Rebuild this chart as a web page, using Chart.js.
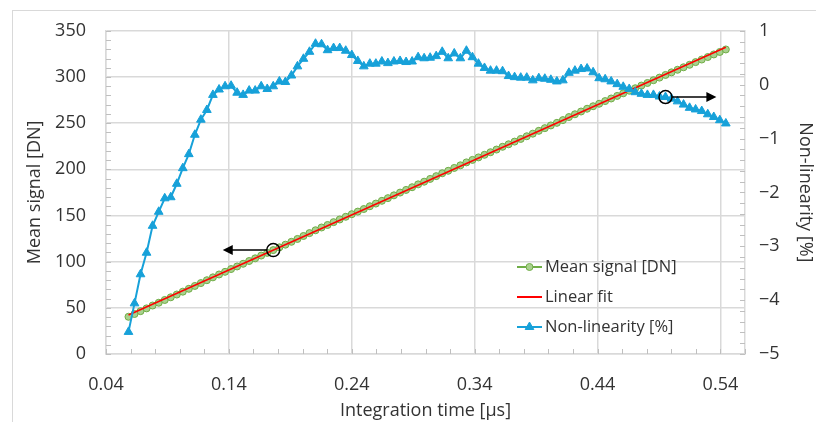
<!DOCTYPE html>
<html>
<head>
<meta charset="utf-8">
<script src="https://cdn.jsdelivr.net/npm/chart.js@4.4.1/dist/chart.umd.min.js"></script>
<style>
  body { margin: 0; background: #fff; }
  canvas { display: block; }
</style>
</head>
<body>
<canvas id="chart" width="816" height="422"></canvas>
<script>
// integration time [us]
const times = [
  0.0583, 0.0632, 0.0681, 0.0730, 0.0779, 0.0829, 0.0878, 0.0927, 0.0976, 0.1025,
  0.1074, 0.1123, 0.1172, 0.1221, 0.1270, 0.1320, 0.1369, 0.1418, 0.1467, 0.1516,
  0.1565, 0.1614, 0.1663, 0.1712, 0.1761, 0.1811, 0.1860, 0.1909, 0.1958, 0.2007,
  0.2056, 0.2105, 0.2154, 0.2203, 0.2252, 0.2302, 0.2351, 0.2400, 0.2449, 0.2498,
  0.2547, 0.2596, 0.2645, 0.2694, 0.2743, 0.2793, 0.2842, 0.2891, 0.2940, 0.2989,
  0.3038, 0.3087, 0.3136, 0.3185, 0.3234, 0.3284, 0.3333, 0.3382, 0.3431, 0.3480,
  0.3529, 0.3578, 0.3627, 0.3676, 0.3725, 0.3775, 0.3824, 0.3873, 0.3922, 0.3971,
  0.4020, 0.4069, 0.4118, 0.4167, 0.4216, 0.4266, 0.4315, 0.4364, 0.4413, 0.4462,
  0.4511, 0.4560, 0.4609, 0.4658, 0.4707, 0.4757, 0.4806, 0.4855, 0.4904, 0.4953,
  0.5002, 0.5051, 0.5100, 0.5149, 0.5198, 0.5248, 0.5297, 0.5346, 0.5395, 0.5444
];

// mean signal [DN]
const meanSignal = [
  40.3, 43.3, 46.4, 49.4, 52.5, 55.5, 58.5, 61.4, 64.4, 67.5,
  70.6, 73.7, 76.8, 79.9, 83.0, 86.1, 89.0, 92.0, 94.8, 97.7,
  100.7, 103.6, 106.6, 109.5, 112.5, 115.5, 118.4, 121.5, 124.6, 127.8,
  130.9, 134.0, 137.0, 139.7, 142.8, 145.7, 148.6, 151.4, 154.2, 157.0,
  160.0, 162.9, 165.9, 168.8, 171.8, 174.8, 177.7, 180.6, 183.7, 186.6,
  189.6, 192.6, 195.7, 198.4, 201.5, 204.3, 207.5, 210.2, 212.9, 215.7,
  218.5, 221.4, 224.4, 227.1, 230.0, 232.9, 235.8, 238.6, 241.7, 244.6,
  247.5, 250.3, 253.3, 256.6, 259.6, 262.6, 265.6, 268.3, 271.0, 273.9,
  276.7, 279.5, 282.3, 285.1, 287.8, 290.7, 293.5, 296.5, 299.3, 302.2,
  305.0, 307.8, 310.5, 313.2, 316.1, 318.9, 321.6, 324.4, 327.1, 329.8
];

// non-linearity [%]
const nonLinearity = [
  -4.59, -4.06, -3.52, -3.12, -2.62, -2.36, -2.11, -2.09, -1.84, -1.55,
  -1.29, -0.93, -0.65, -0.47, -0.19, -0.09, -0.03, -0.02, -0.15, -0.19,
  -0.11, -0.11, -0.03, -0.08, -0.03, 0.06, 0.05, 0.17, 0.34, 0.48,
  0.61, 0.76, 0.75, 0.64, 0.68, 0.68, 0.63, 0.55, 0.44, 0.34,
  0.39, 0.39, 0.43, 0.40, 0.43, 0.44, 0.42, 0.43, 0.51, 0.49,
  0.50, 0.53, 0.61, 0.49, 0.58, 0.49, 0.63, 0.51, 0.39, 0.31,
  0.26, 0.26, 0.25, 0.16, 0.14, 0.13, 0.13, 0.08, 0.12, 0.11,
  0.09, 0.06, 0.08, 0.22, 0.26, 0.29, 0.30, 0.23, 0.12, 0.10,
  0.06, 0.01, -0.04, -0.08, -0.14, -0.17, -0.19, -0.19, -0.22, -0.23,
  -0.26, -0.31, -0.37, -0.43, -0.46, -0.49, -0.55, -0.60, -0.66, -0.72
];

// linear fit end points
const fitTimes = [0.0583, 0.5444];
const fitSignal = [42.2, 332.2];

const xTickValues = [0.04, 0.14, 0.24, 0.34, 0.44, 0.54];

// circles + arrows pointing to the axis each curve belongs to
const callouts = [
  { axis: "y", x: 0.1761, y: 112.5, tipX: 0.135 },
  { axis: "y2", x: 0.4953, y: -0.23, tipX: 0.5367 },
];

const FONT = "'Open Sans', sans-serif";
const TEXT = "#333333";
const GRID = "#d9d9d9";
const GREEN = "#70ad47";
const GREEN_FILL = "#a9d18e";
const RED = "#ff0000";
const BLUE = "#17a1d9";

const toPoints = (xs, ys) => xs.map((x, i) => ({ x: x, y: ys[i] }));
const minus = (v) => (v < 0 ? "\u2212" + Math.abs(v) : String(v));

const frame = {
  id: "frame",
  beforeDraw(chart) {
    const ctx = chart.ctx;
    ctx.save();
    ctx.fillStyle = "#fff";
    ctx.fillRect(0, 0, chart.width, chart.height);
    ctx.strokeStyle = GRID;
    ctx.lineWidth = 1;
    ctx.strokeRect(12.5, 10.5, chart.width, chart.height);
    ctx.restore();
  },
};

// small inward tick marks like excel's
const minorTicks = {
  id: "minorTicks",
  beforeDatasetsDraw(chart) {
    const { ctx, chartArea: a, scales } = chart;
    ctx.save();
    ctx.strokeStyle = "#bfbfbf";
    ctx.lineWidth = 1;
    ctx.beginPath();
    for (let v = 0; v <= 350; v += 10) {
      const y = Math.round(scales.y.getPixelForValue(v)) + 0.5;
      ctx.moveTo(a.left, y);
      ctx.lineTo(a.left + 5, y);
    }
    for (let k = 0; k <= 30; k++) {
      const y = Math.round(scales.y2.getPixelForValue(-5 + k * 0.2)) + 0.5;
      ctx.moveTo(a.right, y);
      ctx.lineTo(a.right - 5, y);
    }
    for (let k = 0; k <= 26; k++) {
      const x = Math.round(scales.x.getPixelForValue(0.04 + k * 0.02)) + 0.5;
      ctx.moveTo(x, a.bottom);
      ctx.lineTo(x, a.bottom - 5);
    }
    ctx.stroke();
    ctx.restore();
  },
};

const arrows = {
  id: "arrows",
  afterDatasetsDraw(chart) {
    const { ctx, scales } = chart;
    const r = 6.5;
    ctx.save();
    ctx.strokeStyle = "#000";
    ctx.fillStyle = "#000";
    ctx.lineWidth = 1.5;
    callouts.forEach((c) => {
      const cx = scales.x.getPixelForValue(c.x);
      const cy = scales[c.axis].getPixelForValue(c.y);
      const tx = scales.x.getPixelForValue(c.tipX);
      const dir = tx > cx ? 1 : -1;
      ctx.beginPath();
      ctx.arc(cx, cy, r, 0, Math.PI * 2);
      ctx.stroke();
      ctx.beginPath();
      ctx.moveTo(cx + dir * r, cy);
      ctx.lineTo(tx - dir * 8, cy);
      ctx.stroke();
      ctx.beginPath();
      ctx.moveTo(tx, cy);
      ctx.lineTo(tx - dir * 10, cy - 5);
      ctx.lineTo(tx - dir * 10, cy + 5);
      ctx.closePath();
      ctx.fill();
    });
    ctx.restore();
  },
};

const legendBox = {
  id: "legendBox",
  afterDraw(chart) {
    const ctx = chart.ctx;
    const items = [
      { text: "Mean signal [DN]", color: GREEN, marker: "circle", y: 267 },
      { text: "Linear fit", color: RED, marker: null, y: 297 },
      { text: "Non-linearity [%]", color: BLUE, marker: "triangle", y: 327 },
    ];
    ctx.save();
    items.forEach((it) => {
      ctx.strokeStyle = it.color;
      ctx.lineWidth = 2;
      ctx.beginPath();
      ctx.moveTo(517, it.y);
      ctx.lineTo(542, it.y);
      ctx.stroke();
      if (it.marker === "circle") {
        ctx.fillStyle = GREEN_FILL;
        ctx.lineWidth = 1;
        Chart.helpers.drawPoint(ctx, { pointStyle: "circle", radius: 3.5, rotation: 0, borderWidth: 1 }, 529.5, it.y);
      } else if (it.marker === "triangle") {
        ctx.fillStyle = BLUE;
        ctx.lineWidth = 1;
        Chart.helpers.drawPoint(ctx, { pointStyle: "triangle", radius: 5, rotation: 0, borderWidth: 1 }, 529.5, it.y);
      }
      ctx.fillStyle = TEXT;
      ctx.font = "16.5px " + FONT;
      ctx.textBaseline = "middle";
      ctx.textAlign = "left";
      ctx.fillText(it.text, 545, it.y);
    });
    ctx.restore();
  },
};

const tickFont = { family: FONT, size: 18 };
const titleFont = { family: FONT, size: 18 };

new Chart(document.getElementById("chart"), {
  type: "line",
  data: {
    datasets: [
      {
        label: "Non-linearity [%]",
        data: toPoints(times, nonLinearity),
        yAxisID: "y2",
        borderColor: BLUE,
        backgroundColor: BLUE,
        borderWidth: 2,
        pointStyle: "triangle",
        pointRadius: 5,
        pointBorderWidth: 1,
        order: 0,
      },
      {
        label: "Linear fit",
        data: toPoints(fitTimes, fitSignal),
        yAxisID: "y",
        borderColor: RED,
        borderWidth: 1.5,
        pointRadius: 0,
        order: 1,
      },
      {
        label: "Mean signal [DN]",
        data: toPoints(times, meanSignal),
        yAxisID: "y",
        borderColor: GREEN,
        backgroundColor: GREEN_FILL,
        pointBorderColor: GREEN,
        borderWidth: 1.5,
        pointRadius: 3.5,
        pointBorderWidth: 1,
        order: 2,
      },
    ],
  },
  options: {
    responsive: false,
    animation: false,
    devicePixelRatio: 1,
    layout: { padding: { top: 25, left: 0, right: 0, bottom: 0 } },
    plugins: {
      legend: { display: false },
      tooltip: { enabled: false },
    },
    scales: {
      x: {
        type: "linear",
        min: 0.04,
        max: 0.56,
        afterBuildTicks: (s) => {
          s.ticks = xTickValues.map((v) => ({ value: v }));
        },
        afterFit: (s) => {
          s.height = 68;
        },
        grid: { color: GRID, lineWidth: 1.5, drawTicks: false },
        border: { color: GRID, width: 1.5 },
        ticks: {
          padding: 20,
          color: TEXT,
          font: tickFont,
          maxRotation: 0,
          autoSkip: false,
          callback: (v) => Number(v).toFixed(2),
        },
        title: {
          display: true,
          text: "Integration time [μs]",
          color: TEXT,
          font: titleFont,
          padding: { top: 0, bottom: 0 },
        },
      },
      y: {
        position: "left",
        min: 0,
        max: 350,
        afterFit: (s) => {
          s.width = 106;
        },
        grid: { color: GRID, lineWidth: 1.5, drawTicks: false },
        border: { color: GRID, width: 1.5 },
        ticks: { stepSize: 50, padding: 20, color: TEXT, font: tickFont },
        title: {
          display: true,
          text: "Mean signal [DN]",
          color: TEXT,
          font: titleFont,
          padding: { top: 24, bottom: 0 },
        },
      },
      y2: {
        position: "right",
        min: -5,
        max: 1,
        afterFit: (s) => {
          s.width = 71;
        },
        grid: { display: false, drawTicks: false },
        border: { color: GRID, width: 1.5 },
        ticks: { stepSize: 1, padding: 14, color: TEXT, font: tickFont, callback: (v) => minus(v) },
        title: {
          display: true,
          text: "Non-linearity [%]",
          color: TEXT,
          font: titleFont,
          padding: { top: 0, bottom: 0 },
        },
      },
    },
  },
  plugins: [frame, minorTicks, arrows, legendBox],
});
</script>
</body>
</html>
